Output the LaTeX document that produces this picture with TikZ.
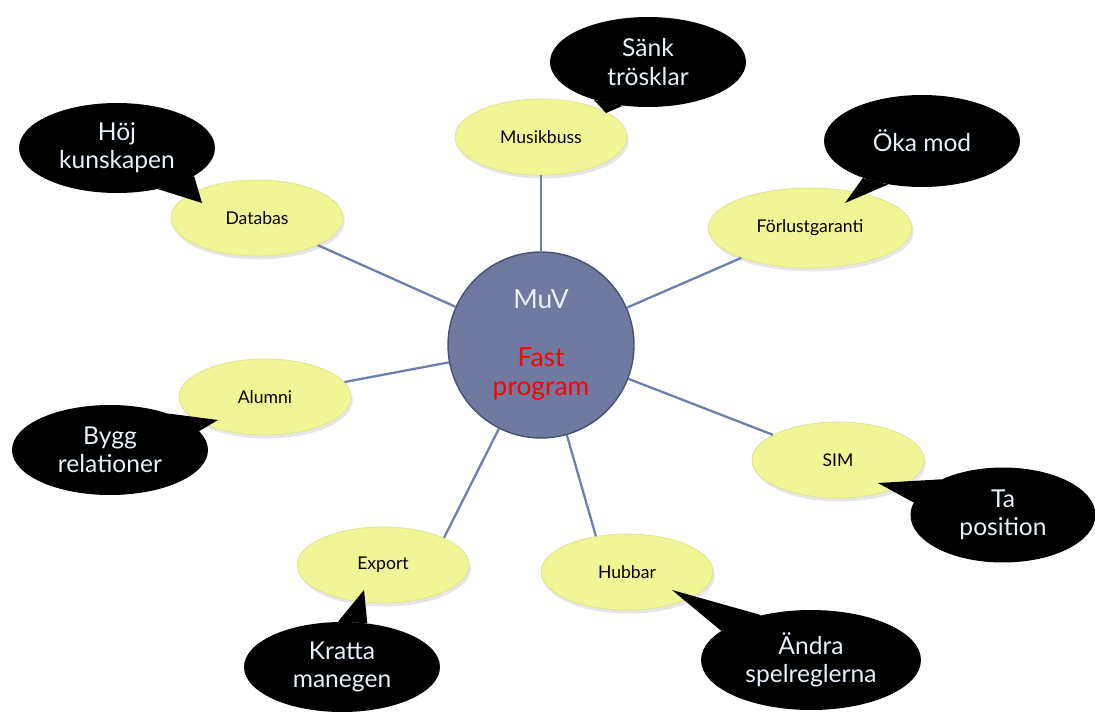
\documentclass[tikz,border=0pt]{standalone}
\usepackage{fontspec}
\setmainfont{Lato}
\usetikzlibrary{shapes.geometric,shadows}
\definecolor{ideafill}{RGB}{240,245,150}
\definecolor{idealine}{RGB}{222,226,140}
\definecolor{hubfill}{RGB}{112,122,160}
\definecolor{hubline}{RGB}{70,80,115}
\definecolor{spokecol}{RGB}{112,126,170}
\definecolor{calltext}{RGB}{232,240,250}
\definecolor{hubtext}{RGB}{236,240,248}
\tikzset{
  idea/.style={ellipse, draw=idealine, fill=ideafill, inner sep=0pt,
    minimum width=3.44cm, minimum height=1.52cm, font=\fontsize{10}{12}\selectfont,
    drop shadow={shadow xshift=1pt, shadow yshift=-2pt, opacity=0.2}},
  hub/.style={circle, draw=hubline, line width=0.8pt, fill=hubfill, minimum size=3.72cm,
    inner sep=0pt, align=center, font=\fontsize{15}{16.5}\selectfont},
  bubble/.style={ellipse, fill=black, inner sep=0pt, minimum width=3.92cm,
    minimum height=1.8cm, align=center, text=calltext, font=\fontsize{14}{16}\selectfont},
  spoke/.style={draw=spokecol, line width=1.3pt}
}
\begin{document}
\begin{tikzpicture}[x=0.02cm, y=-0.02cm]
  \useasboundingbox (0,0) rectangle (1095,727);
  \draw
    (541,345) node[hub] (muv) {\textcolor{hubtext}{MuV}\\ \\ \textcolor{red}{Fast}\\ \textcolor{red}{program}}
    (541,137) node[idea] (musikbuss) {Musikbuss}
    (257,218) node[idea] (databas) {Databas}
    (810,228) node[idea, minimum width=4.08cm, minimum height=1.6cm] (forlust) {Förlustgaranti}
    (265,397) node[idea] (alumni) {Alumni}
    (838,460) node[idea] (sim) {SIM}
    (383,565) node[idea] (export) {Export}
    (627,572) node[idea] (hubbar) {Hubbar};
  \begin{scope}[-]
    \draw[spoke] (muv) to (musikbuss);
    \draw[spoke] (muv) to (databas);
    \draw[spoke] (muv) to (forlust);
    \draw[spoke] (muv) to (alumni);
    \draw[spoke] (muv) to (sim);
    \draw[spoke] (muv) to (export.24);
    \draw[spoke] (muv) to (hubbar.131);
  \end{scope}
  % pratbubblor
  \draw
    (648,62) node[bubble] (sank) {Sänk\\trösklar}
    (117,148) node[bubble] (hoj) {Höj\\kunskapen}
    (922,141) node[bubble, minimum height=1.84cm] (oka) {Öka mod}
    (110,450) node[bubble] (bygg) {Bygg\\relationer}
    (1003,515) node[bubble, minimum width=3.7cm, minimum height=1.9cm] (ta) {Ta\\position}
    (342,667) node[bubble] (kratta) {Kratta\\manegen}
    (811,660) node[bubble, minimum width=4.4cm, minimum height=2cm] (andra) {Ändra\\spelreglerna};
  \coordinate (sanktip) at (606,113);
  \coordinate (hojtip) at (202,203);
  \coordinate (okatip) at (845,203);
  \coordinate (byggtip) at (218,420);
  \coordinate (tatip) at (878,483);
  \coordinate (krattatip) at (364,590);
  \coordinate (andratip) at (672,590);
  \begin{scope}[-]
    \fill (sank.215) -- (sanktip) -- (sank.240) -- cycle;
    \fill (hoj.315) -- (hojtip) -- (hoj.340) -- cycle;
    \fill (oka.212) -- (okatip) -- (oka.232) -- cycle;
    \fill (bygg.12) -- (byggtip) -- (bygg.32) -- cycle;
    \fill (ta.150) -- (tatip) -- (ta.172) -- cycle;
    \fill (kratta.60) -- (krattatip) -- (kratta.95) -- cycle;
    \fill (andra.138) -- (andratip) -- (andra.162) -- cycle;
  \end{scope}
\end{tikzpicture}
\end{document}
